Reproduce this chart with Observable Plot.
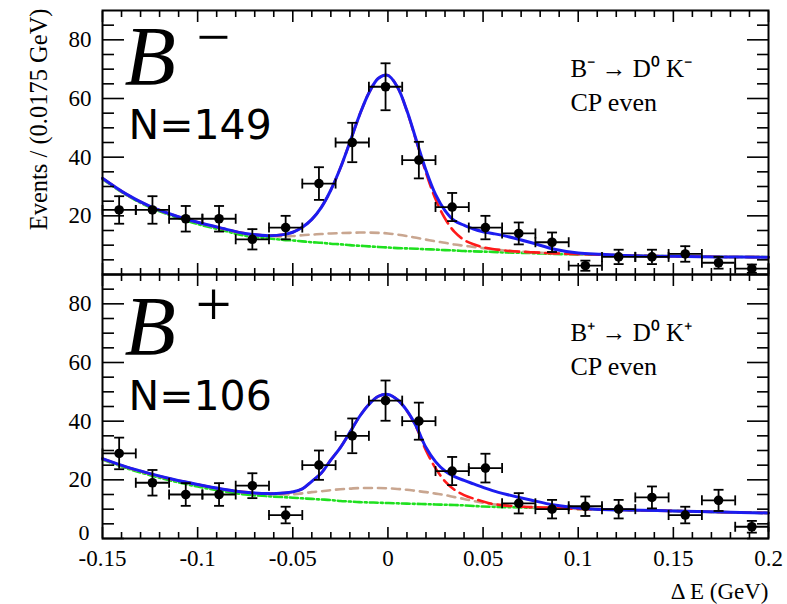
<!DOCTYPE html>
<html><head><meta charset="utf-8">
<script src="https://cdn.jsdelivr.net/npm/d3@7"></script>
<script src="https://cdn.jsdelivr.net/npm/@observablehq/plot@0.6"></script>
<style>body{margin:0;background:#fff}#chart svg{display:block}</style>
</head><body><div id="chart"></div>
<script>
// ---------- data ----------
const panels = ["minus", "plus"];
const binCenters = [-0.14125,-0.12375,-0.10625,-0.08875,-0.07125,-0.05375,-0.03625,-0.01875,-0.00125,0.01625,0.03375,0.05125,0.06875,0.08625,0.10375,0.12125,0.13875,0.15625,0.17375,0.19125];
const halfBin = 0.00875;
const countsMinus = [22,22,19,19,12,16,31,45,64,39,23,16,14,11,3,6,6,7,4,2];
const errMinus    = [4.69,4.69,4.36,4.36,3.46,4,5.57,6.71,8,6.24,4.8,4,3.74,3.32,1.73,2.45,2.45,2.65,2,1.41];
const countsPlus  = [29,19,15,15,18,8,25,35,47,40,23,24,12,10,11,10,14,8,13,4];
const errPlus     = [5.39,4.36,3.87,3.87,4.24,2.83,5,5.92,6.86,6.32,4.8,4.9,3.46,3.16,3.32,3.16,3.74,2.83,3.61,2];

const curveX = [-0.15,-0.1375,-0.125,-0.1125,-0.1,-0.0875,-0.075,-0.0625,-0.055,-0.05,-0.045,-0.04,-0.035,-0.03,-0.025,-0.02,-0.015,-0.01,-0.005,0,0.005,0.01,0.015,0.02,0.025,0.03,0.035,0.04,0.045,0.05,0.055,0.0625,0.075,0.0875,0.1,0.1125,0.125,0.15,0.175,0.2];
// B- panel fit components
const totalMinus = [32.8,27.4,23.2,20.2,17.8,15.8,14.0,13.25,13.6,14.4,16.1,18.8,22.9,28.8,36.3,45.1,54.2,61.9,66.9,67.9,63.9,55.8,45.6,35.5,27.3,21.8,18.3,16.8,15.5,14.6,14.0,13.0,10.9,8.6,7.3,6.9,6.5,6.2,6.0,5.9];
const signalMinus = [32.8,27.4,23.2,20.2,17.8,15.8,14.0,13.25,13.6,14.4,16.1,18.8,22.9,28.8,36.3,45.1,54.2,61.9,66.9,67.9,63.9,55.7,45.3,34.7,25.7,19.1,14.5,11.8,10.3,9.3,8.7,8.1,7.6,7.2,6.95,6.75,6.5,6.2,6.0,5.9];
const peakingMinus = [32.7,27.3,23.1,20.1,17.7,15.7,13.9,13.1,13.0,13.1,13.4,13.6,13.8,14.0,14.1,14.2,14.3,14.3,14.2,14.0,13.6,13.1,12.5,11.9,11.3,10.8,10.2,9.8,9.4,9.0,8.6,8.1,7.6,7.2,6.95,6.75,6.5,6.2,6.0,5.9];
const combMinus = [32.5,27.1,22.9,19.8,17.2,15.2,13.2,12.3,11.8,11.6,11.3,11.0,10.8,10.5,10.3,10.0,9.8,9.6,9.4,9.2,9.0,8.9,8.8,8.6,8.5,8.3,8.2,8.0,7.9,7.8,7.7,7.5,7.3,7.0,6.85,6.7,6.5,6.2,6.0,5.9];
// B+ panel fit components
const totalPlus = [27.2,24.4,22.1,20.1,18.4,16.9,15.8,15.3,15.5,15.9,16.9,19.5,22.3,26.8,31.0,36.2,41.5,45.7,48.5,49.1,47.3,43.6,38.1,31.0,26.2,23.0,21.1,19.8,18.6,17.4,16.3,15.0,13.1,11.4,10.4,9.9,9.7,9.4,9.0,8.7];
const signalPlus = [27.2,24.4,22.1,20.1,18.4,16.9,15.8,15.3,15.5,15.9,16.9,19.5,22.3,26.8,31.0,36.2,41.5,45.7,48.5,49.1,47.3,43.5,37.8,30.0,24.0,19.5,16.6,14.8,13.6,12.6,11.8,11.2,10.7,10.4,10.1,9.9,9.7,9.4,9.0,8.7];
const peakingPlus = [27.1,24.3,22.0,20.0,18.3,16.8,15.7,15.1,15.0,15.1,15.4,15.8,16.1,16.5,16.8,17.0,17.2,17.2,17.2,17.1,16.9,16.6,16.2,15.8,15.3,14.8,14.1,13.5,12.8,12.2,11.7,11.2,10.7,10.4,10.1,9.9,9.7,9.4,9.0,8.7];
const combPlus = [26.9,24.0,21.6,19.5,17.7,16.2,15.0,14.4,14.1,13.9,13.7,13.5,13.3,13.1,12.8,12.6,12.4,12.3,12.2,12.1,12.0,11.9,11.8,11.7,11.6,11.5,11.4,11.3,11.1,10.9,10.8,10.7,10.5,10.3,10.1,9.9,9.7,9.4,9.0,8.7];

const xMajorTicks = [-0.15,-0.1,-0.05,0,0.05,0.1,0.15,0.2];
const xMinorTicks = [-0.14,-0.13,-0.12,-0.11,-0.09,-0.08,-0.07,-0.06,-0.04,-0.03,-0.02,-0.01,0.01,0.02,0.03,0.04,0.06,0.07,0.08,0.09,0.11,0.12,0.13,0.14,0.16,0.17,0.18,0.19];
const yMajorTicks = [0,20,40,60,80];
const yMinorTicks = [5,10,15,25,30,35,45,50,55,65,70,75,85];
const yLabelsMinus = [20,40,60,80];
const yLabelsPlus = [20,40,60,80];
const yZeroLabel = [0];

const bigLetter = ["B","B"];
const chargeSign = ["\u2212","+"];
const yieldText = ["N=149","N=106"];
const decayText = ["B\u207B \u2192 D\u2070 K\u207B","B\u207A \u2192 D\u2070 K\u207A"];
const cpText = ["CP even","CP even"];
const xTitle = "\u0394 E (GeV)";
const yTitle = "Events / (0.0175 GeV)";

// ---------- tables ----------
const points = [
  ...binCenters.map((x,i)=>({panel:"minus", x, n:countsMinus[i], e:errMinus[i]})),
  ...binCenters.map((x,i)=>({panel:"plus", x, n:countsPlus[i], e:errPlus[i]}))
];
function comp(a, b){ return [...curveX.map((x,i)=>({panel:"minus", x, v:a[i]})), ...curveX.map((x,i)=>({panel:"plus", x, v:b[i]}))]; }
const total = comp(totalMinus, totalPlus);
const signal = comp(signalMinus, signalPlus);
const peaking = comp(peakingMinus, peakingPlus);
const comb = comp(combMinus, combPlus);
const labels = panels.map((p,i)=>({panel:p, big:bigLetter[i], sign:chargeSign[i], yield:yieldText[i], decay:decayText[i], cp:cpText[i]}));
const yLab = [...yLabelsMinus.map(v=>({panel:"minus", v})), ...yLabelsPlus.map(v=>({panel:"plus", v}))];
const yLab0 = yZeroLabel.map(v=>({panel:"plus", v}));

const hCap = {draw(c, s){ const h = Math.sqrt(s/Math.PI); c.moveTo(-h,0); c.lineTo(h,0); }};
const vCap = {draw(c, s){ const h = Math.sqrt(s/Math.PI); c.moveTo(0,-h); c.lineTo(0,h); }};

const serif = "Liberation Serif";
const only = p => labels.filter(d=>d.panel===p);
const tk = {text:null, label:null, facetAnchor:null, strokeWidth:1.6};

const chart = Plot.plot({
  width: 787, height: 604,
  marginLeft: 102, marginRight: 19, marginTop: 9, marginBottom: 66,
  style: {fontFamily: serif, fontSize: "23px", color: "black", background: "white", overflow: "visible"},
  x: {domain: [-0.15, 0.2], axis: null},
  y: {domain: [0, 90], axis: null},
  fy: {domain: panels, padding: 0, axis: null},
  marks: [
    // fit components
    Plot.line(comb, {fy:"panel", x:"x", y:"v", stroke:"#1fe01f", strokeWidth:2.6, strokeDasharray:"8,3,2,3", curve:"catmull-rom"}),
    Plot.line(peaking, {fy:"panel", x:"x", y:"v", stroke:"#c9a690", strokeWidth:2.6, strokeDasharray:"8,6", curve:"catmull-rom"}),
    Plot.line(signal, {fy:"panel", x:"x", y:"v", stroke:"#ff1a1a", strokeWidth:2.6, strokeDasharray:"14,6", curve:"catmull-rom"}),
    Plot.line(total, {fy:"panel", x:"x", y:"v", stroke:"#1c1cf0", strokeWidth:3, curve:"catmull-rom"}),
    // data with error bars
    Plot.ruleX(points, {fy:"panel", x:"x", y1:d=>d.n-d.e, y2:d=>d.n+d.e, stroke:"black", strokeWidth:1.8}),
    Plot.ruleY(points, {fy:"panel", y:"n", x1:d=>d.x-halfBin, x2:d=>d.x+halfBin, stroke:"black", strokeWidth:1.8}),
    Plot.dot(points, {fy:"panel", x:"x", y:d=>d.n+d.e, symbol:hCap, r:5, fill:"none", stroke:"black", strokeWidth:1.8}),
    Plot.dot(points, {fy:"panel", x:"x", y:d=>d.n-d.e, symbol:hCap, r:5, fill:"none", stroke:"black", strokeWidth:1.8}),
    Plot.dot(points, {fy:"panel", x:d=>d.x-halfBin, y:"n", symbol:vCap, r:5, fill:"none", stroke:"black", strokeWidth:1.8}),
    Plot.dot(points, {fy:"panel", x:d=>d.x+halfBin, y:"n", symbol:vCap, r:5, fill:"none", stroke:"black", strokeWidth:1.8}),
    Plot.dot(points, {fy:"panel", x:"x", y:"n", r:4.8, fill:"black"}),
    // frame and inward ticks
    Plot.frame({stroke:"black", strokeWidth:2}),
    Plot.axisY({anchor:"left", ticks:yMajorTicks, tickSize:-22, ...tk}),
    Plot.axisY({anchor:"left", ticks:yMinorTicks, tickSize:-12, ...tk}),
    Plot.axisY({anchor:"right", ticks:yMajorTicks, tickSize:-22, ...tk}),
    Plot.axisY({anchor:"right", ticks:yMinorTicks, tickSize:-12, ...tk}),
    Plot.axisX({anchor:"bottom", ticks:xMajorTicks, tickSize:-11, ...tk}),
    Plot.axisX({anchor:"bottom", ticks:xMinorTicks, tickSize:-6, ...tk}),
    Plot.axisX({anchor:"top", ticks:xMajorTicks, tickSize:-11, ...tk}),
    Plot.axisX({anchor:"top", ticks:xMinorTicks, tickSize:-6, ...tk}),
    // tick labels
    Plot.axisX({anchor:"bottom", ticks:xMajorTicks, tickSize:0, tickPadding:11, tickFormat:d=>String(d), label:null, fontSize:23, fontFamily:serif}),
    Plot.text(yLab, {fy:"panel", y:"v", text:d=>String(d.v), frameAnchor:"left", textAnchor:"end", dx:-11, fontSize:23, fontFamily:serif}),
    Plot.text(yLab0, {fy:"panel", y:"v", text:d=>String(d.v), frameAnchor:"left", textAnchor:"end", dx:-13, dy:-6, fontSize:22, fontFamily:serif}),
    // titles
    Plot.text(only("minus"), {fy:"panel", text:()=>yTitle, frameAnchor:"top-left", rotate:-90, textAnchor:"end", lineAnchor:"middle", dx:-63, dy:-2, fontSize:24.5, fontFamily:serif}),
    Plot.text(only("plus"), {fy:"panel", text:()=>xTitle, frameAnchor:"bottom-right", textAnchor:"end", lineAnchor:"bottom", dy:60, fontSize:23, fontFamily:serif}),
    // panel annotations
    Plot.text(only("minus"), {fy:"panel", text:"big", frameAnchor:"top-left", textAnchor:"start", lineAnchor:"bottom", dx:22, dy:74, fontSize:84, fontStyle:"italic", fontFamily:serif}),
    Plot.text(only("plus"), {fy:"panel", text:"big", frameAnchor:"top-left", textAnchor:"start", lineAnchor:"bottom", dx:22, dy:80, fontSize:84, fontStyle:"italic", fontFamily:serif}),
    Plot.text(only("minus"), {fy:"panel", text:"sign", frameAnchor:"top-left", textAnchor:"middle", lineAnchor:"middle", dx:111, dy:27, fontSize:60, fontFamily:serif}),
    Plot.text(only("plus"), {fy:"panel", text:"sign", frameAnchor:"top-left", textAnchor:"middle", lineAnchor:"middle", dx:111, dy:31, fontSize:64, fontFamily:serif}),
    Plot.text(only("minus"), {fy:"panel", text:"yield", frameAnchor:"top-left", textAnchor:"start", lineAnchor:"bottom", dx:26, dy:128, fontSize:41, fontFamily:"DejaVu Sans"}),
    Plot.text(only("plus"), {fy:"panel", text:"yield", frameAnchor:"top-left", textAnchor:"start", lineAnchor:"bottom", dx:26, dy:135, fontSize:41, fontFamily:"DejaVu Sans"}),
    Plot.text(labels, {fy:"panel", text:"decay", frameAnchor:"top-left", textAnchor:"start", lineAnchor:"bottom", dx:468, dy:66, fontSize:25, fontFamily:serif}),
    Plot.text(labels, {fy:"panel", text:"cp", frameAnchor:"top-left", textAnchor:"start", lineAnchor:"bottom", dx:468, dy:100, fontSize:26, fontFamily:serif})
  ]
});
document.getElementById("chart").append(chart);
</script>
</body></html>
